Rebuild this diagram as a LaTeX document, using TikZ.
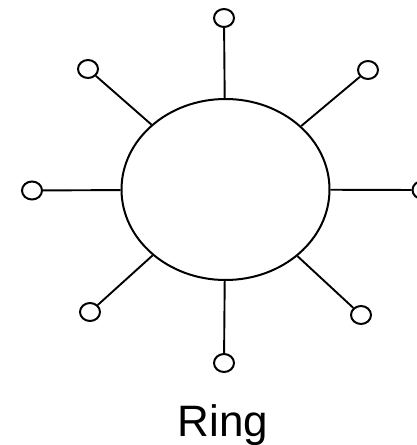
\documentclass[tikz,border=0pt]{standalone}
\usepackage{fontspec}
\setmainfont{Liberation Sans}
\usetikzlibrary{shapes.geometric}
\begin{document}
\begin{tikzpicture}[x=1pt,y=-1pt,line width=2pt,
  ringbox/.style={draw,ellipse,inner sep=0pt,minimum width=208pt,minimum height=181pt},
  stationbox/.style={draw,ellipse,inner sep=0pt,minimum width=20pt,minimum height=18pt,fill=white},
  link/.style={line width=1.9pt}]
\useasboundingbox (0,0) rectangle (417,445);
\node[ringbox] (ring) at (225.5,189.5) {};
\node[stationbox] (n) at (224,18) {};
\node[stationbox] (ne) at (368,70) {};
\node[stationbox] (e) at (422.5,190) {};
\node[stationbox] (se) at (361,315) {};
\node[stationbox] (s) at (224,363) {};
\node[stationbox] (sw) at (90,312) {};
\node[stationbox] (w) at (32,190.5) {};
\node[stationbox] (nw) at (88,69) {};
\foreach \t in {n,ne,e,se,s,sw,w,nw} \draw[link] (ring) -- (\t);
\node[anchor=base,font=\fontsize{44}{50}\selectfont,inner sep=0pt] (label) at (223,436) {Ring};
\end{tikzpicture}
\end{document}
